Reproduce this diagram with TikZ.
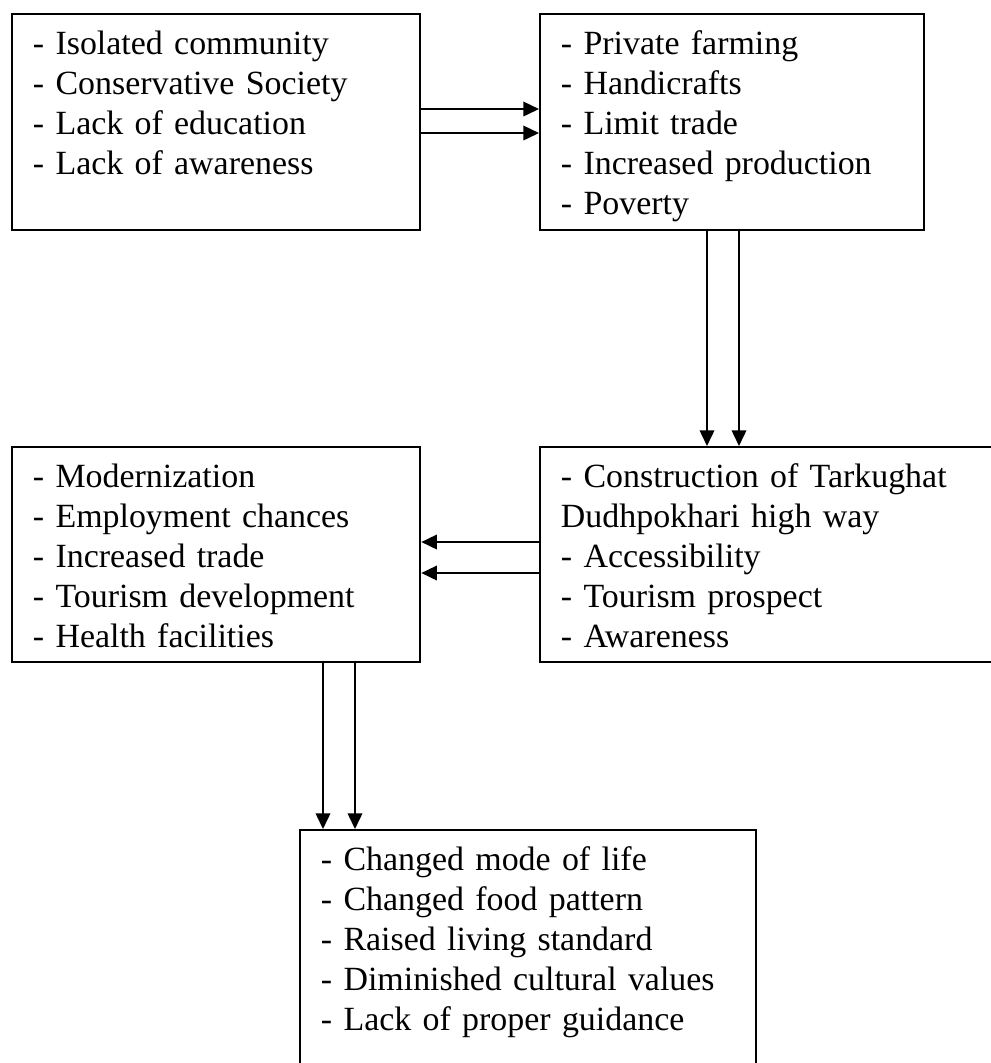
\documentclass[tikz,border=0pt]{standalone}
\usepackage{fontspec}
\setmainfont{Liberation Serif}
\usepackage{tikz}
\usetikzlibrary{arrows.meta}

\begin{document}
\begin{tikzpicture}[
  x=0.345pt, y=-0.345pt,
  font={\fontsize{11.7pt}{13.8pt}\selectfont},
  box/.style={draw, line width=0.75pt, anchor=north west, align=left, inner xsep=7.2pt, inner ysep=0pt, text height=13.8pt, text depth=60.7pt, text width=#1},
  box/.default=126.4pt,
  arr/.style={-{Triangle[length=5.4pt, width=5pt]}, line width=0.7pt},
]
\useasboundingbox (0,0) rectangle (991,1063);
% ================= TOP ROW =================
\node[box] (isol) at (11,13) {- Isolated community\\- Conservative Society\\- Lack of education\\- Lack of awareness};
\node[box=118.1pt] (farm) at (539,13) {- Private farming\\- Handicrafts\\- Limit trade\\- Increased production\\- Poverty};
\draw[arr] (isol.east |- 0,109) -- (farm.west |- 0,109);
\draw[arr] (isol.east |- 0,133) -- (farm.west |- 0,133);
% ================= MIDDLE ROW =================
\node[box=142.9pt, text depth=60.4pt] (road) at (539,446) {- Construction of Tarkughat\\Dudhpokhari high way\\- Accessibility\\- Tourism prospect\\- Awareness};
\node[box, text depth=60.4pt] (mod) at (11,446) {- Modernization\\- Employment chances\\- Increased trade\\- Tourism development\\- Health facilities};
\draw[arr] (farm.south -| 707,0) -- (road.north -| 707,0);
\draw[arr] (farm.south -| 739,0) -- (road.north -| 739,0);
\draw[arr] (road.west |- 0,542) -- (mod.east |- 0,542);
\draw[arr] (road.west |- 0,573) -- (mod.east |- 0,573);
% ================= BOTTOM =================
\node[box=142.9pt, text depth=72.5pt] (chg) at (299,829) {- Changed mode of life\\- Changed food pattern\\- Raised living standard\\- Diminished cultural values\\- Lack of proper guidance};
\draw[arr] (mod.south -| 323,0) -- (chg.north -| 323,0);
\draw[arr] (mod.south -| 355,0) -- (chg.north -| 355,0);
\end{tikzpicture}
\end{document}
